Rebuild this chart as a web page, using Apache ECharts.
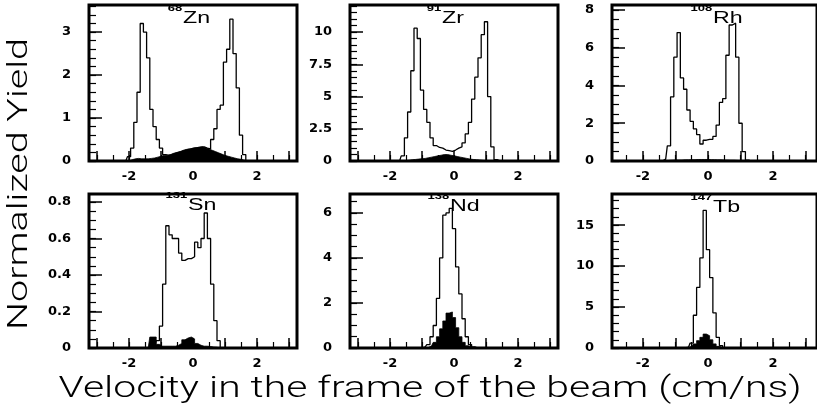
<!DOCTYPE html>
<html>
<head>
<meta charset="utf-8">
<script src="https://cdn.jsdelivr.net/npm/echarts@6/dist/echarts.min.js"></script>
<style>
html,body{margin:0;padding:0;background:#fff}
#chart{width:817px;height:412px}
</style>
</head>
<body>
<div id="chart"></div>
<script>
// bin centres (cm/ns), shared by all six histograms
var bins = [-2.2,-2.1,-2.0,-1.9,-1.8,-1.7,-1.6,-1.5,-1.4,-1.3,
            -1.2,-1.1,-1.0,-0.9,-0.8,-0.7,-0.6,-0.5,-0.4,-0.3,
            -0.2,-0.1,0,0.1,0.2,0.3,0.4,0.5,0.6,0.7,
            0.8,0.9,1.0,1.1,1.2,1.3,1.4,1.5,1.6,1.7,
            1.8];

// open histograms (all events) and filled ones (selected events)
var znOpen = [0,0,0.1,0.3,0.9,1.6,3.2,3.0,2.4,1.2,
              0.8,0.5,0.3,0.15,0.13,0.15,0.18,0.2,0.22,0.25,
              0.27,0.28,0.3,0.31,0.32,0.33,0.3,0.28,0.5,0.75,
              1.2,1.3,2.3,2.6,3.3,2.5,1.7,0.6,0.15,0,
              0];
var znFill = [0,0,0,0.03,0.05,0.06,0.05,0.05,0.05,0.06,
              0.07,0.09,0.11,0.13,0.13,0.15,0.18,0.2,0.22,0.25,
              0.27,0.28,0.3,0.31,0.32,0.33,0.3,0.28,0.25,0.22,
              0.19,0.16,0.13,0.11,0.09,0.07,0.05,0.04,0.02,0,
              0];
var zrOpen = [0,0,0,0,0,0,0.4,1.8,3.8,7.0,
              10.3,9.5,5.5,4.0,3.0,1.8,1.2,1.05,1.0,0.85,
              0.8,0.75,0.85,1.0,1.1,1.4,2.1,3.0,4.8,6.5,
              8.0,9.8,10.8,5.0,1.1,0.1,0,0,0,0,
              0];
var zrFill = [0,0,0,0,0,0,0,0.03,0.06,0.1,
              0.12,0.15,0.18,0.2,0.25,0.3,0.35,0.4,0.45,0.5,
              0.5,0.45,0.4,0.35,0.3,0.25,0.2,0.15,0.12,0.1,
              0.08,0.05,0.03,0,0,0,0,0,0,0,
              0];
var rhOpen = [0,0,0,0,0,0,0,0,0,0.1,
              0.8,3.4,5.5,6.8,4.4,3.8,2.7,2.1,1.7,1.4,
              0.9,1.1,1.15,1.15,1.3,1.9,3.1,3.3,5.6,7.2,
              7.3,5.5,2.0,0.5,0.05,0,0,0,0,0,
              0];
var rhFill = [0,0,0,0,0,0,0,0,0,0,
              0.03,0.04,0.05,0.05,0.05,0.06,0.06,0.07,0.07,0.08,
              0.08,0.08,0.08,0.07,0.07,0.06,0.06,0.05,0.05,0.04,
              0.04,0.03,0.02,0,0,0,0,0,0,0,
              0];
var snOpen = [0,0,0,0,0,0,0,0,0,0,
              0,0.04,0.12,0.35,0.67,0.62,0.6,0.6,0.52,0.48,
              0.49,0.49,0.5,0.58,0.55,0.6,0.74,0.6,0.35,0.15,
              0.04,0,0,0,0,0,0,0,0,0,
              0];
var snFill = [0,0,0,0,0,0,0,0,0,0.06,
              0.06,0.02,0.01,0.01,0.01,0.01,0.01,0.015,0.025,0.045,
              0.055,0.06,0.05,0.025,0.015,0.01,0.01,0.008,0.005,0.004,
              0,0,0,0,0,0,0,0,0,0,
              0];
var ndOpen = [0,0,0,0,0,0,0,0,0,0,
              0,0,0,0.05,0.15,0.5,1.0,2.2,4.0,5.9,
              6.0,6.2,5.3,3.6,2.4,1.3,0.5,0.15,0.05,0,
              0,0,0,0,0,0,0,0,0,0,
              0];
var ndFill = [0,0,0,0,0,0,0,0,0,0,
              0,0,0,0,0.02,0.1,0.25,0.5,0.85,1.2,
              1.55,1.6,1.35,0.9,0.5,0.25,0.1,0.03,0,0,
              0,0,0,0,0,0,0,0,0,0,
              0];
var tbOpen = [0,0,0,0,0,0,0,0,0,0,
              0,0,0,0,0,0,0.1,0.6,4.0,7.4,
              11,16.8,12,8.6,4.3,1.3,0.3,0.05,0,0,
              0,0,0,0,0,0,0,0,0,0,
              0];
var tbFill = [0,0,0,0,0,0,0,0,0,0,
              0,0,0,0,0,0,0.05,0.2,0.5,0.9,
              1.3,1.7,1.5,1.0,0.5,0.2,0.05,0,0,0,
              0,0,0,0,0,0,0,0,0,0,
              0];

// tick labels
var xTicks = [-3,-2,-1,0,1,2,3];
var xLabels = [-2,0,2];
var znTicks = [0,1,2,3];
var zrTicks = [0,2.5,5,7.5,10];
var rhTicks = [0,2,4,6,8];
var snTicks = [0,0.2,0.4,0.6,0.8];
var ndTicks = [0,2,4,6];
var tbTicks = [0,5,10,15];

var panels = [
    {mass:'68',  el:'Zn', open:znOpen, fill:znFill, yTicks:znTicks},
    {mass:'91',  el:'Zr', open:zrOpen, fill:zrFill, yTicks:zrTicks},
    {mass:'108', el:'Rh', open:rhOpen, fill:rhFill, yTicks:rhTicks},
    {mass:'131', el:'Sn', open:snOpen, fill:snFill, yTicks:snTicks},
    {mass:'138', el:'Nd', open:ndOpen, fill:ndFill, yTicks:ndTicks},
    {mass:'147', el:'Tb', open:tbOpen, fill:tbFill, yTicks:tbTicks}
];

// frame geometry of each pad (px) and its axis ranges
var layout = [
    {left:89,  top:5,   width:208, height:156, xMin:-3.25, xMax:3.25, yMax:3.63,  yMinor:0.2,  tag:[183,19]},
    {left:350, top:5,   width:208, height:156, xMin:-3.25, xMax:3.25, yMax:12.1,  yMinor:0.5,  tag:[442,19]},
    {left:612, top:5,   width:216, height:156, xMin:-2.95, xMax:3.35, yMax:8.26,  yMinor:0.5,  tag:[713,19]},
    {left:89,  top:194, width:208, height:154, xMin:-3.25, xMax:3.25, yMax:0.844, yMinor:0.05, tag:[188,206]},
    {left:350, top:194, width:208, height:154, xMin:-3.25, xMax:3.25, yMax:6.84,  yMinor:0.5,  tag:[450,207]},
    {left:612, top:194, width:216, height:154, xMin:-2.95, xMax:3.35, yMax:18.8,  yMinor:1,    tag:[713,208]}
];

function steps(from, to, step){
    var out = [];
    for (var k = 0; from + k*step <= to + 1e-9; k++) out.push(+(from + k*step).toFixed(4));
    return out;
}

var xMinor = steps(-3, 3, 0.5);
var labelFont = {color:'#000', fontWeight:'bold', fontSize:13, fontFamily:'DejaVu Sans'};

var grid = [], xAxis = [], yAxis = [], series = [], graphic = [];

panels.forEach(function(p, i){
    var L = layout[i];
    var xa = xAxis.length, ya = yAxis.length;
    grid.push({left:L.left, top:L.top, width:L.width, height:L.height,
               show:true, borderColor:'#000', borderWidth:3, backgroundColor:'#fff'});

    // main axes: major ticks + labels
    xAxis.push({type:'value', gridIndex:i, position:'bottom', min:L.xMin, max:L.xMax,
        axisLine:{show:false, onZero:false}, splitLine:{show:false},
        axisTick:{show:true, inside:true, length:10, customValues:xTicks, lineStyle:{color:'#000', width:1.5}},
        axisLabel:Object.assign({customValues:xLabels, margin:9}, labelFont)});
    yAxis.push({type:'value', gridIndex:i, position:'left', min:0, max:L.yMax,
        axisLine:{show:false, onZero:false}, splitLine:{show:false},
        axisTick:{show:true, inside:true, length:13, customValues:p.yTicks, lineStyle:{color:'#000', width:1.5}},
        axisLabel:Object.assign({customValues:p.yTicks, margin:18}, labelFont)});
    // minor ticks on overlaid axes
    xAxis.push({type:'value', gridIndex:i, position:'bottom', min:L.xMin, max:L.xMax,
        axisLine:{show:false, onZero:false}, splitLine:{show:false}, axisLabel:{show:false},
        axisTick:{show:true, inside:true, length:6, customValues:xMinor, lineStyle:{color:'#000', width:1.2}}});
    yAxis.push({type:'value', gridIndex:i, position:'left', min:0, max:L.yMax,
        axisLine:{show:false, onZero:false}, splitLine:{show:false}, axisLabel:{show:false},
        axisTick:{show:true, inside:true, length:7, customValues:steps(0, L.yMax, L.yMinor), lineStyle:{color:'#000', width:1.2}}});

    series.push({type:'line', step:'middle', xAxisIndex:xa, yAxisIndex:ya, symbol:'none', silent:true,
        lineStyle:{color:'#000', width:0.8},
        areaStyle:{color:'#000', opacity:1},
        data:bins.map(function(x, k){ return [x, p.fill[k]]; })});
    series.push({type:'line', step:'middle', xAxisIndex:xa, yAxisIndex:ya, symbol:'none', silent:true,
        lineStyle:{color:'#000', width:1.3},
        data:bins.map(function(x, k){ return [x, p.open[k]]; })});

    // nucleus tag, e.g. 68Zn
    graphic.push({type:'group', x:L.tag[0], y:L.tag[1], scaleX:1.45, z:100, children:[
        {type:'text', x:-0.5, y:-10, style:{text:p.mass, font:'bold 9px "Liberation Sans"', fill:'#000',
            textAlign:'right', align:'right', textVerticalAlign:'middle', verticalAlign:'middle'}},
        {type:'text', x:0, y:0, style:{text:p.el, font:'16px "Liberation Sans"', fill:'#000',
            textAlign:'left', align:'left', textVerticalAlign:'middle', verticalAlign:'middle'}}
    ]});
});

graphic.push({type:'text', x:20, y:184, rotation:Math.PI/2, scaleX:1.41, z:100,
    style:{text:'Normalized Yield', font:'300 28px Roboto', fill:'#000',
           textAlign:'center', align:'center', textVerticalAlign:'middle', verticalAlign:'middle'}});
graphic.push({type:'text', x:430, y:390, scaleX:1.41, z:100,
    style:{text:'Velocity in the frame of the beam (cm/ns)', font:'300 29px Roboto', fill:'#000',
           textAlign:'center', align:'center', textVerticalAlign:'middle', verticalAlign:'middle'}});

var myChart = echarts.init(document.getElementById('chart'));
myChart.setOption({
    animation:false,
    backgroundColor:'#fff',
    grid:grid,
    xAxis:xAxis,
    yAxis:yAxis,
    series:series,
    graphic:graphic
});
</script>
</body>
</html>
